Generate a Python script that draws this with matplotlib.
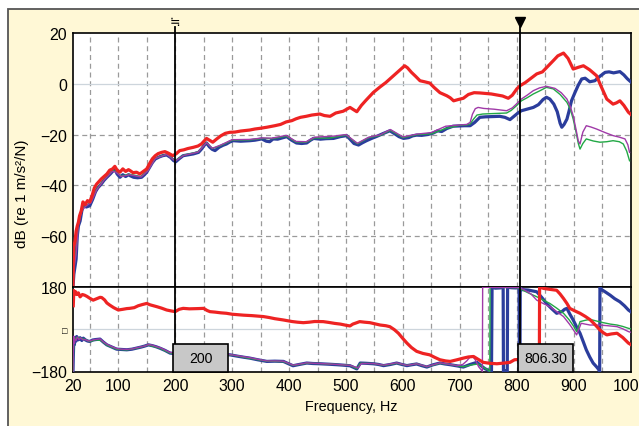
import numpy as np
import matplotlib
matplotlib.use("Agg")
import matplotlib.pyplot as plt
from matplotlib.patches import Rectangle

plt.rcParams['font.family'] = ['Liberation Sans', 'DejaVu Sans']

# ---- magnitude data (Hz, dB) ----
red_mag_f = [20.5, 21, 22, 24, 26, 28, 30, 32, 35, 38, 42, 46, 50, 54, 58, 62, 66, 70, 75, 80, 85, 90, 94, 98,
             103, 108, 113, 118, 121, 126, 132, 138, 144, 150, 156, 160, 165, 170, 176, 182, 188, 196, 202, 208,
             215, 222, 232, 240, 246, 251, 255, 260, 266, 273, 280, 288, 296, 305, 315, 331, 340, 350, 361, 375,
             385, 395, 405, 412, 420, 430, 440, 454, 462, 472, 482, 495, 507, 512, 519, 527, 535, 548, 560, 570,
             577, 585, 595, 603, 608, 615, 622, 630, 638, 647, 655, 665, 677, 683, 689, 697, 706, 715, 725, 735,
             745, 755, 765, 775, 785, 792, 800, 806, 815, 825, 835, 845, 855, 864, 872, 882, 890, 899, 908, 917,
             928, 940, 948, 958, 969, 975, 981, 988, 996, 1000]
red_mag = [-80, -70, -64, -62, -58, -56, -54.5, -52, -50, -46.5, -47.5, -46, -46.5, -44, -41, -39.5, -38.5, -37.5,
           -36.5, -35.5, -34, -33.5, -32.5, -34, -34.8, -33.5, -34.5, -33.8, -34.2, -35, -34.8, -35.5, -34.5, -33.5,
           -31, -29.5, -28.3, -27.5, -27, -26.7, -27.3, -28.3, -27.5, -26.3, -26, -25.5, -25, -24.5, -23.7, -22.5,
           -21.5, -22.2, -23, -21.7, -20.5, -19.5, -19.1, -19.0, -18.6, -18.2, -17.8, -17.5, -17.1, -16.5, -16.0,
           -15.0, -14.5, -13.8, -13.2, -12.8, -12.3, -11.9, -12.5, -12.8, -11.5, -10.8, -9.3, -10, -11, -8.5, -6.5,
           -3.4, -1.2, 0.5, 1.9, 3.5, 5.5, 7.1, 6.3, 4.5, 3, 1.2, 0.8, 0.3, -1.5, -3.5, -4.7, -5.5, -6.7, -6.2, -5.7,
           -4.2, -3.5, -3.6, -3.8, -4.0, -4.4, -4.8, -5.7, -4.5, -2.0, -0.7, 0.5, 2.2, 3.9, 4.7, 7, 9.1, 11, 12.1,
           10, 5.8, 6.5, 7.1, 5.5, 3.2, -1, -6, -8, -7.5, -6.7, -8.5, -11.2, -12]

blue_mag_f = [20.5, 22, 24, 26, 28, 30, 33, 36, 39, 44, 50, 55, 60, 64, 70, 75, 80, 86, 90, 94, 98, 103, 108, 113,
              118, 121, 127, 134, 141, 146, 150, 156, 160, 165, 172, 178, 185, 192, 197, 201, 207, 214, 222, 232,
              241, 247, 251, 255, 260, 265, 270, 277, 284, 290, 296, 302, 315, 331, 340, 352, 360, 366, 372, 380,
              390, 396, 403, 413, 422, 431, 437, 443, 455, 465, 478, 490, 501, 507, 514, 522, 529, 536, 545, 554,
              565, 577, 585, 593, 601, 610, 617, 624, 633, 645, 653, 661, 668, 677, 688, 698, 708, 718, 726, 735,
              745, 758, 770, 779, 788, 795, 802, 808, 818, 829, 838, 846, 852, 858, 865, 871, 876, 879, 883, 888,
              892, 896, 902, 908, 914, 920, 928, 937, 945, 955, 962, 970, 981, 988, 994, 998, 1000]
blue_mag = [-80, -75, -72, -69, -60, -56, -54, -50, -48, -48.5, -48, -45.5, -42.5, -41, -39.5, -38, -36.8, -35.5,
            -34.5, -33.5, -35.5, -36.8, -35.8, -36.5, -35.8, -36.2, -36.8, -37, -36.8, -35.8, -34.8, -32.5, -31,
            -29.6, -28.8, -28.3, -28, -29, -30.2, -30.7, -29.5, -28.3, -28.0, -27.6, -27, -25.5, -24.2, -23.3,
            -24.8, -25.8, -26.3, -25, -24.2, -23.7, -22.9, -22.4, -22.6, -22.4, -22.2, -21.7, -22.6, -22.8, -21.7,
            -21.8, -21.2, -20.8, -22.0, -23.3, -23.5, -23.3, -22.3, -21.5, -21.8, -21.6, -21.5, -20.8, -20.4,
            -21.8, -23.5, -24.1, -23.2, -22.4, -21.5, -20.7, -19.6, -18.5, -19.6, -20.8, -21.5, -21.2, -20.5,
            -20.2, -20.3, -19.9, -19.4, -18.5, -18.8, -17.6, -16.7, -16.6, -16.5, -16.5, -15.2, -13.2, -13.0,
            -12.9, -12.8, -13.2, -14.1, -12.8, -11.5, -10.6, -10, -9.3, -8.2, -6.2, -5.3, -6, -8, -11, -15.5,
            -17.1, -16, -13.9, -10.5, -6.7, -3.5, -0.5, 1.9, 2.2, 0.8, 1.2, 2.8, 4.5, 4.7, 4.3, 4.8, 3.5, 2, 1.2,
            0.8]

green_mag_f = [20.5, 23, 26, 30, 36, 44, 52, 62, 75, 90, 96, 105, 120, 140, 152, 165, 185, 200, 215, 240, 255,
               265, 280, 300, 330, 355, 370, 395, 412, 430, 445, 470, 500, 520, 540, 560, 578, 600, 625, 650, 675,
               700, 712, 718, 724, 730, 740, 760, 782, 790, 800, 808, 818, 829, 840, 852, 864, 876, 888, 894, 899,
               904, 908, 911, 916, 922, 934, 946, 958, 969, 980, 987, 993, 998]
green_mag = [-80, -71, -66, -55, -49.5, -47.8, -46.5, -41.5, -37.7, -34.2, -34.5, -36.3, -35.6, -36.5, -34,
             -29.3, -27.7, -30.2, -28.1, -26.8, -23.1, -25.5, -24.3, -22.2, -22.1, -21.5, -21.6, -20.6, -22.9,
             -23.0, -21.3, -21.4, -20.2, -23.6, -21.2, -20.3, -18.3, -21.2, -20.0, -19.7, -17.6, -16.3, -16.2,
             -15.8, -13.9, -12.3, -11.9, -11.7, -11.5, -10.5, -8.5, -6.7, -5.5, -4, -2.8, -1.4, -2, -4.2, -7.3,
             -10, -13.9, -19, -23.5, -25.7, -23.5, -21.7, -22.5, -23, -22.8, -22.4, -22.8, -23.7, -26.5, -30.3]

mag_mag_f = [20.5, 23, 26, 30, 36, 44, 52, 62, 75, 90, 96, 105, 120, 140, 152, 165, 185, 200, 215, 240, 255,
             265, 280, 300, 330, 355, 370, 395, 412, 430, 445, 478, 500, 520, 540, 560, 578, 600, 625, 650, 675,
             700, 712, 718, 722, 727, 732, 742, 760, 782, 792, 800, 808, 818, 829, 840, 852, 867, 878, 888, 894,
             899, 904, 908, 911, 916, 922, 930, 940, 955, 969, 980, 990, 995, 998]
mag_mag = [-80, -71.5, -67, -55.5, -49.8, -48, -46.8, -41.8, -37.9, -34.4, -34.8, -36.5, -35.8, -36.7, -34.3,
           -29.4, -27.8, -30.4, -28.2, -26.9, -23.2, -25.4, -24.1, -22.0, -21.9, -21.3, -21.4, -20.3, -22.7,
           -22.8, -21.0, -20.6, -20.0, -23.4, -21.0, -20.1, -18.0, -20.9, -19.8, -19.2, -16.7, -16.2, -16.0,
           -15.2, -12.0, -9.8, -9.3, -9.7, -10.0, -10.6, -9.5, -7.8, -6, -4.5, -2.7, -1.6, -1, -1.8, -3.5, -6,
           -9, -12.6, -18, -22.5, -23.7, -19, -16.5, -17, -17.8, -19.2, -20.4, -21, -21.7, -24, -27]

# ---- phase data (Hz, degrees) ----
red_ph_f = [21, 22, 23, 25, 27, 30, 33, 37, 41, 45, 50, 56, 62, 68, 71, 76, 80, 85, 92, 100, 108, 115, 120, 128,
            135, 142, 150, 156, 162, 168, 176, 185, 193, 200, 207, 214, 225, 240, 250, 256, 261, 270, 280, 290,
            300, 310, 320, 335, 355, 365, 375, 390, 405, 415, 425, 435, 445, 460, 470, 480, 490, 500, 507, 512,
            519, 524, 533, 542, 551, 560, 570, 577, 585, 592, 600, 607, 615, 624, 635, 647, 656, 665, 675, 683,
            695, 706, 715, 724, 732, 741, 752, 765, 778, 788, 796, 806, 815, 825, 835, 839.5, 840, 847, 858, 870,
            876, 882, 888, 893, 902, 911, 920, 929, 938, 946, 952, 958, 966, 976, 986, 996, 1000]
red_ph = [100, 165, 150, 160, 148, 155, 138, 148, 145, 140, 132, 124, 130, 136, 135, 125, 112, 103, 92, 82, 85,
          88, 89, 92, 100, 105, 110, 104, 100, 96, 90, 82, 78, 75, 85, 89, 87, 88, 89, 80, 75, 73, 70, 68, 64, 62,
          60, 58, 54, 50, 45, 39.5, 33, 30, 28, 30, 33, 32.5, 29, 25, 22, 17, 14, 22, 28, 32.5, 30, 28, 23, 18,
          15, 11, -2, -17, -40, -59, -78, -94, -103, -109, -120, -130, -135, -137, -130, -123, -118, -116, -128,
          -141, -145, -147, -144, -141, -130, -128, -140, -160, -175, -179.5, 179.5, 174, 170, 166, 150, 131, 110,
          89, 78, 68, 55, 40, 18, -3, -15, -24, -20, -17, -35, -59, -65]

blue_ph_f = [20.5, 21, 22, 23, 24, 26, 27, 30, 33, 36, 38.6, 42, 46, 50, 55, 60, 68, 74, 80, 88, 97, 105, 115,
             124, 132, 140, 146, 153, 160, 167, 173, 182, 191, 200, 230, 260, 296, 310, 320, 331, 345, 361, 375,
             390, 400, 407, 418, 431, 442, 454, 470, 484, 495, 507, 513, 519, 525, 535, 548, 557, 566, 578, 589,
             598, 607, 616, 624, 633, 642, 652, 665, 674, 683, 695, 706, 718, 730, 737, 744, 750, 755.5, 756.5,
             762, 770, 776, 776.5, 780, 783.2, 783.8, 790, 798, 804, 804.5, 805.5, 806, 808.5, 820, 835, 844, 852,
             861, 870, 875, 879, 884, 888, 893, 899, 905, 911, 917, 922, 928, 934, 940, 943, 945.5, 946, 949, 956,
             964, 972, 981, 989, 996, 1000]
blue_ph = [-180, -120, -40, -65, -35, -50, -31, -45, -36, -48, -38, -45, -50, -52, -46, -44, -42, -55, -66.5, -75,
           -84.7, -86, -87.5, -85, -80.5, -76, -72, -66.5, -70, -75, -80.5, -90, -101.6, -104, -106, -107, -109,
           -115, -119, -123, -130, -137, -136, -137, -148, -155.5, -150, -144, -146, -147, -149, -151, -153,
           -155.5, -162, -169, -144, -145, -147, -150, -155, -150, -144, -150, -155, -151, -148, -155, -161, -152,
           -144, -148, -151, -156, -161, -150, -141, -155, -168, -175, -179.5, 179, 175, 176, 178, -179.5, -177,
           -179.5, 179.5, 177, 176, 178, -179.5, -179.5, 179.5, 169, 167, 159.6, 135, 110, 88, 68, 72, 75, 85, 89,
           65, 39.5, 10, -17, -55, -87.5, -118, -144, -160, -169, -179.5, 179.5, 169, 158, 145, 130, 117, 100, 82,
           75]

green_ph_f = [20.5, 22, 24, 27, 33, 40, 50, 60, 70, 80, 97, 115, 132, 153, 173, 191, 220, 260, 300, 331, 361, 390,
              407, 431, 454, 484, 507, 519, 525, 548, 566, 589, 607, 624, 642, 665, 683, 706, 720, 732, 740, 748,
              752.5, 753, 760, 780, 800, 808.5, 820, 835, 846, 858, 870, 882, 892, 900, 905, 908, 911, 920, 928.6,
              940, 952, 964, 976, 986, 996, 1000]
green_ph = [-180, -45, -40, -35, -38, -42, -53, -45, -48, -68, -85, -88, -81, -67, -81, -102, -105, -107, -110,
            -124, -136, -138, -154, -145, -146, -150, -154, -168, -145, -146, -154, -145, -154, -147, -160, -145,
            -150, -160, -152, -148, -160, -172, -179.5, 179.5, 178, 178, 177, 169, 155, 138.5, 125, 110, 90, 68,
            40, 12, -10, 10, 32.5, 38, 42, 35, 28, 22, 18, 12, 4, 2]

mag_ph_f = [20.5, 21, 22, 23, 24, 26, 28, 31, 34, 38, 42, 46, 50, 56, 62, 68, 74, 80, 88, 97, 106, 115, 124, 132,
            140, 147, 153, 160, 167, 174, 182, 191, 220, 260, 296, 310, 331, 345, 361, 375, 390, 400, 407, 418,
            431, 442, 454, 470, 484, 495, 507, 515, 521, 527, 548, 566, 589, 607, 624, 642, 665, 683, 695, 705,
            712, 718, 722, 727, 733, 737, 739.5, 740, 760, 790, 806, 815, 825, 835, 846, 858, 870, 882, 893, 900,
            905, 909, 913, 920, 928.6, 945, 960, 976, 986, 996, 1000]
mag_ph = [-180, -100, -30, -60, -42, -48, -33, -44, -37, -45, -44, -49, -50, -45, -43, -41, -54, -64, -73, -82,
          -85, -86, -84, -79, -75, -71, -65, -68, -74, -79, -88, -99, -104, -106, -108, -113, -121, -128, -135,
          -135, -136, -146, -153, -149, -143, -145, -146, -148, -150, -152, -154, -160, -165, -146, -146, -153,
          -143, -154, -147, -159, -143, -150, -155, -150, -135, -118, -115, -130, -160, -172, -179.5, 179.5, 178,
          178, 177, 165, 150, 124, 110, 96, 75, 54, 20, -5, -24, 0, 25.5, 22, 18, 18, 15, 11, 2, -10, -13]

# cursors
cursor_a = 200
cursor_b = 806.30

x_ticks = [20, 100, 200, 300, 400, 500, 600, 700, 800, 900, 1000]
mag_ticks = [20, 0, -20, -40, -60]
ph_ticks = [180, 0, -180]
ph_tick_labels = ['180', '\u25a1', '\u2212180']

RED = '#ee2323'
BLUE = '#2b3d9c'
GREEN = '#22a845'
PURPLE = '#a03aa8'
GRID = '#9a9a9a'

fig = plt.figure(figsize=(6.39, 4.27), dpi=100)
fig.patch.set_facecolor('white')
panel = Rectangle((8 / 639, -0.05), 1.1, 1 - 10 / 427 + 0.05, transform=fig.transFigure,
                  facecolor='#fff8d6', edgecolor='#555555', linewidth=1.3, zorder=-10)
fig.patches.append(panel)

left = 72.7 / 639
width = (630.7 - 72.7) / 639
ax1 = fig.add_axes([left, 1 - 288 / 427, width, (288 - 34) / 427])
ax2 = fig.add_axes([left, 1 - 372.5 / 427, width, (372.5 - 288) / 427], sharex=ax1)

for ax in (ax1, ax2):
    ax.set_facecolor('white')
    ax.set_xlim(20, 1000)
    for s in ax.spines.values():
        s.set_linewidth(1.2)
        s.set_color('black')
    for xv in range(50, 1000, 50):
        ax.axvline(xv, color=GRID, lw=0.9, dashes=(4, 3), zorder=1)
    ax.tick_params(length=0, labelsize=11.4, pad=4)

ax1.set_ylim(-80, 20)
for yv in (-20, -40, -60):
    ax1.axhline(yv, color=GRID, lw=0.9, dashes=(4, 3), zorder=1)
ax1.axhline(0, color='#cdd5dc', lw=0.9, zorder=1)
ax1.set_yticks(mag_ticks)
ax1.set_yticklabels([str(v).replace('-', '\u2212') for v in mag_ticks])
ax1.tick_params(axis='x', labelbottom=False)

ax2.set_ylim(-180, 180)
ax2.axhline(0, color='#cdd5dc', lw=0.9, zorder=1)
ax2.set_yticks(ph_ticks)
ax2.set_yticklabels(ph_tick_labels)
ax2.get_yticklabels()[1].set_fontsize(6.5)
ax2.set_xticks(x_ticks)
ax2.tick_params(axis='x', pad=5)
ax2.set_xlabel('Frequency, Hz', fontsize=10.4, labelpad=4)

# curves
ax1.plot(blue_mag_f, blue_mag, color=BLUE, lw=2.3, zorder=3)
ax1.plot(green_mag_f, green_mag, color=GREEN, lw=1.0, zorder=4)
ax1.plot(mag_mag_f, mag_mag, color=PURPLE, lw=1.0, zorder=5)
ax1.plot(red_mag_f, red_mag, color=RED, lw=2.3, zorder=6)

ax2.plot(blue_ph_f, blue_ph, color=BLUE, lw=2.3, zorder=3)
ax2.plot(green_ph_f, green_ph, color=GREEN, lw=1.0, zorder=4)
ax2.plot(mag_ph_f, mag_ph, color=PURPLE, lw=1.0, zorder=5)
ax2.plot(red_ph_f, red_ph, color=RED, lw=2.3, zorder=6)

# cursor lines
for cx in (cursor_a, cursor_b):
    ax1.plot([cx, cx], [-80, 22.4], color='black', lw=1.3, zorder=8, clip_on=False)
    ax2.axvline(cx, color='black', lw=1.3, zorder=8)
ax1.plot([cursor_b], [24.4], marker='v', color='black', ms=7.5, clip_on=False, zorder=9)
ax1.text(cursor_a, 24.6, '\u2252', ha='center', va='center', fontsize=9, clip_on=False,
         family=['DejaVu Sans'])

# cursor value boxes
for cx, txt in ((cursor_a, '200'), (cursor_b, '806.30')):
    ax2.add_patch(Rectangle((cx - 4, -180), 97, 118, facecolor='#c8c8c8', edgecolor='black',
                            lw=1.2, zorder=10, clip_on=False))
    ax2.text(cx - 4 + 48.5, -121, txt, ha='center', va='center', fontsize=10.2, zorder=11)

fig.text(22 / 639, 1 - 194 / 427, 'dB (re 1 m/s\u00b2/N)', rotation=90, ha='center', va='center',
         fontsize=11)

fig.savefig('out.png', dpi=100)
plt.close(fig)
